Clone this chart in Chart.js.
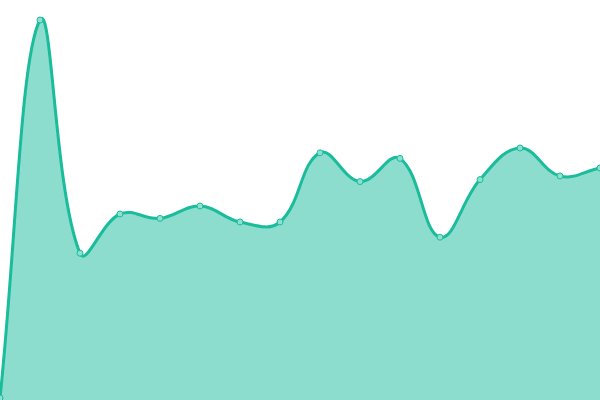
<!DOCTYPE html>
<html>
<head>
<meta charset="utf-8">
<script src="https://cdn.jsdelivr.net/npm/chart.js@4/dist/chart.umd.min.js"></script>
<style>
  html, body { margin: 0; padding: 0; background: #fff; }
  #wrap { width: 600px; height: 400px; }
</style>
</head>
<body>
<div id="wrap"><canvas id="area-chart"></canvas></div>
<script>
//area chart

var ctx = document.getElementById('area-chart');

var labels = ['1', '2', '3', '4', '5', '6', '7', '8', '9', '10', '11', '12', '13', '14', '15', '16'];
var visits = [0.5, 95, 36.7, 46.5, 45.4, 48.5, 44.5, 44.5, 61.8, 54.6, 60.4, 40.7, 55.1, 63, 56, 58];

var myChart = new Chart(ctx, {
    type: 'line',
    data: {
        labels: labels,
        datasets: [{
            label: 'Visits',
            data: visits,
            backgroundColor: "rgba(26, 188, 156, .5)",
            borderColor: "rgb(26, 188, 156)",
            borderWidth: 3,
            pointRadius: 3,
            pointBorderWidth: 1,
            pointBackgroundColor: "rgb(140, 224, 207)",
            pointBorderColor: "rgb(26, 188, 156)",
            tension: .4,
            fill: true
        }]
    },
    options: {
        responsive: true,
        maintainAspectRatio: false,
        animation: false,
        layout: { padding: 0, autoPadding: false },
        plugins: {
            legend: { display: false },
            tooltip: { enabled: false }
        },
        scales: {
            x: { display: false, offset: false },
            y: { display: false, min: 0, max: 100 }
        }
    }
})
</script>
</body>
</html>
